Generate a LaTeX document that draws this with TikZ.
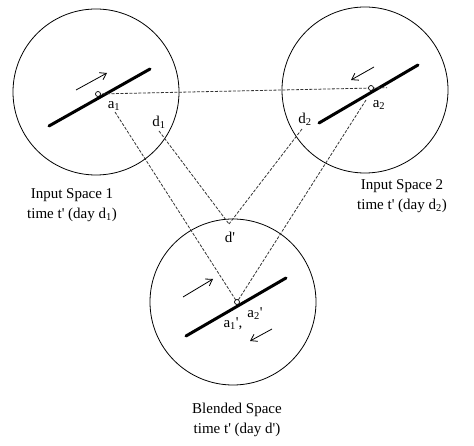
\documentclass[tikz,border=0pt]{standalone}
\usepackage{fontspec}
\setmainfont{Liberation Serif}
\usetikzlibrary{arrows.meta}
\newcommand{\pr}{\textquotesingle}
\tikzset{
  spacecirc/.style={draw=black, line width=0.8pt, circle, minimum size=166pt, inner sep=0pt},
  trackline/.style={line width=3pt, line cap=round},
  dotpt/.style={draw=black, line width=0.7pt, fill=white, circle, minimum size=5pt, inner sep=0pt},
  motion/.style={line width=0.8pt, -{Straight Barb[length=6pt, width=8pt]}},
  mapline/.style={draw=black!80, line width=0.8pt, dash pattern=on 3pt off 1.5pt},
  lbl/.style={font=\fontsize{15}{17}\selectfont, inner sep=0pt},
  captxt/.style={font=\fontsize{15}{19.5}\selectfont, align=center, inner sep=0pt}
}
\begin{document}
\begin{tikzpicture}[x=1pt,y=-1pt]
\useasboundingbox (0,0) rectangle (474,446);
% spaces
\node[spacecirc] (s1) at (96,92) {};
\node[spacecirc] (s2) at (365,90) {};
\node[spacecirc] (s3) at (233,302) {};
% tracks
\coordinate (p1a) at (49,126); \coordinate (p1b) at (150,69);
\coordinate (p2a) at (319,123); \coordinate (p2b) at (418,65);
\coordinate (p3a) at (186,336); \coordinate (p3b) at (286,278);
\draw[trackline] (p1a) -- (p1b);
\draw[trackline] (p2a) -- (p2b);
\draw[trackline] (p3a) -- (p3b);
% motion arrows
\coordinate (m1a) at (76,90); \coordinate (m1b) at (107,73);
\coordinate (m2a) at (374,67); \coordinate (m2b) at (351,80);
\coordinate (m3a) at (183,297); \coordinate (m3b) at (213,279);
\coordinate (m4a) at (272,329); \coordinate (m4b) at (250,341);
\draw[motion] (m1a) -- (m1b);
\draw[motion] (m2a) -- (m2b);
\draw[motion] (m3a) -- (m3b);
\draw[motion] (m4a) -- (m4b);
% points
\coordinate (a1c) at (98,94);
\coordinate (a2c) at (371,88);
\coordinate (apc) at (237,302);
% mapping connectors
\coordinate (a1s) at (115,112);
\coordinate (d1s) at (159,131);
\coordinate (d2s) at (302,129);
\coordinate (a2s) at (366,100);
\coordinate (dp) at (229,224);
\coordinate (hend) at (387,87.7);
\draw[mapline] (a1c) -- (hend);
\draw[mapline] (a1s) -- (apc);
\draw[mapline] (a2s) -- (apc);
\draw[mapline] (d1s) -- (dp);
\draw[mapline] (d2s) -- (dp);
\node[dotpt] (a1) at (a1c) {};
\node[dotpt] (a2) at (a2c) {};
\node[dotpt] (ap) at (apc) {};
% labels
\node[lbl] (la1) at (114,106) {a\textsubscript{1}};
\node[lbl] (ld1) at (159,122) {d\textsubscript{1}};
\node[lbl] (ld2) at (305,119) {d\textsubscript{2}};
\node[lbl] (la2) at (379,105) {a\textsubscript{2}};
\node[lbl] (ldp) at (230,237) {d\pr};
\node[lbl] (lap1) at (233,324) {a\textsubscript{1}\pr,};
\node[lbl] (lap2) at (255,314) {a\textsubscript{2}\pr};
% captions
\node[captxt] (c1) at (72,205) {Input Space 1\\time t\pr{} (day d\textsubscript{1})};
\node[captxt] (c2) at (402,196) {Input Space 2\\time t\pr{} (day d\textsubscript{2})};
\node[captxt] (c3) at (237,420) {Blended Space\\time t\pr{} (day d\pr)};
\end{tikzpicture}
\end{document}
